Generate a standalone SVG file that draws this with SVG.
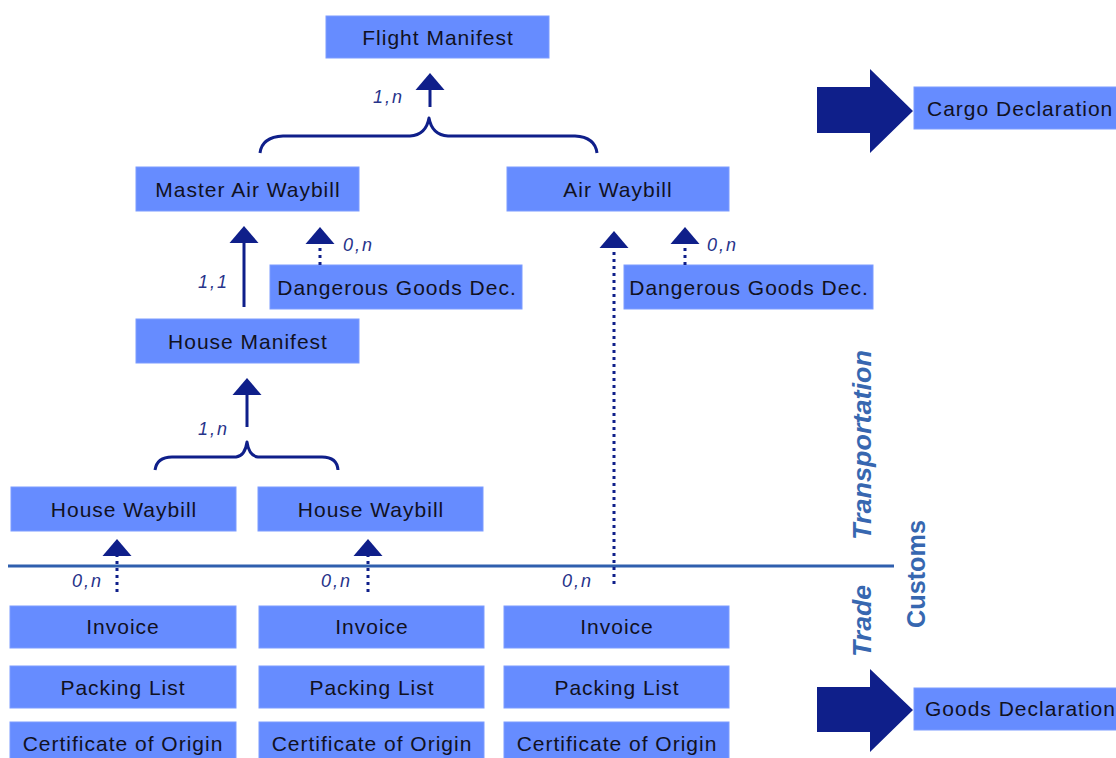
<svg xmlns="http://www.w3.org/2000/svg" width="1116" height="758" viewBox="0 0 1116 758">
  <style>
    .box { fill: #668cff; stroke: #7d9cff; stroke-width: 1; }
    .lbl { font-family: "Liberation Sans", Arial, sans-serif; font-size: 21px; letter-spacing: 1px; fill: #111122; text-anchor: middle; }
    .lbl-start { text-anchor: start; }
    .card { font-family: "Liberation Sans", Arial, sans-serif; font-size: 18px; font-style: italic; letter-spacing: 2px; fill: #27338a; }
    .solid { stroke: #0f1f8a; stroke-width: 3; fill: none; }
    .dotted { stroke: #0f1f8a; stroke-width: 3; fill: none; stroke-dasharray: 3 4; }
    .brace { stroke: #0f1f8a; stroke-width: 3; fill: none; stroke-linejoin: round; }
    .big { fill: #0f1f8a; }
    .zone { font-family: "Liberation Sans", Arial, sans-serif; font-size: 26px; font-weight: bold; fill: #3767b0; }
  </style>
  <defs>
    <marker id="head" viewBox="0 -15 17 30" refX="0" refY="0" markerWidth="17" markerHeight="30" markerUnits="userSpaceOnUse" orient="auto">
      <path d="M0,-14.5 L17,0 L0,14.5 Z" fill="#0f1f8a"/>
    </marker>
  </defs>

  <!-- transport documents -->
  <g id="flight-manifest"><rect class="box" x="326" y="16" width="223" height="42"/><text class="lbl" x="438" y="45">Flight Manifest</text></g>
  <g id="master-air-waybill"><rect class="box" x="136" y="167" width="223" height="44"/><text class="lbl" x="248" y="197">Master Air Waybill</text></g>
  <g id="air-waybill"><rect class="box" x="507" y="167" width="222" height="44"/><text class="lbl" x="618" y="197">Air Waybill</text></g>
  <g id="dgd-left"><rect class="box" x="270" y="265" width="252" height="44"/><text class="lbl" x="397" y="295">Dangerous Goods Dec.</text></g>
  <g id="dgd-right"><rect class="box" x="624" y="265" width="249" height="44"/><text class="lbl" x="749" y="295">Dangerous Goods Dec.</text></g>
  <g id="house-manifest"><rect class="box" x="136" y="319" width="223" height="44"/><text class="lbl" x="248" y="349">House Manifest</text></g>
  <g id="house-waybill-1"><rect class="box" x="11" y="487" width="225" height="44"/><text class="lbl" x="124" y="517">House Waybill</text></g>
  <g id="house-waybill-2"><rect class="box" x="258" y="487" width="225" height="44"/><text class="lbl" x="371" y="517">House Waybill</text></g>

  <!-- trade documents, three sets -->
  <g id="invoice-1"><rect class="box" x="10" y="606" width="226" height="42"/><text class="lbl" x="123" y="634">Invoice</text></g>
  <g id="invoice-2"><rect class="box" x="259" y="606" width="225" height="42"/><text class="lbl" x="372" y="634">Invoice</text></g>
  <g id="invoice-3"><rect class="box" x="504" y="606" width="225" height="42"/><text class="lbl" x="617" y="634">Invoice</text></g>
  <g id="packing-1"><rect class="box" x="10" y="666" width="226" height="42"/><text class="lbl" x="123" y="695">Packing List</text></g>
  <g id="packing-2"><rect class="box" x="259" y="666" width="225" height="42"/><text class="lbl" x="372" y="695">Packing List</text></g>
  <g id="packing-3"><rect class="box" x="504" y="666" width="225" height="42"/><text class="lbl" x="617" y="695">Packing List</text></g>
  <g id="origin-1"><rect class="box" x="10" y="722" width="226" height="44"/><text class="lbl" x="123" y="751">Certificate of Origin</text></g>
  <g id="origin-2"><rect class="box" x="259" y="722" width="225" height="44"/><text class="lbl" x="372" y="751">Certificate of Origin</text></g>
  <g id="origin-3"><rect class="box" x="504" y="722" width="225" height="44"/><text class="lbl" x="617" y="751">Certificate of Origin</text></g>

  <!-- declarations -->
  <g id="cargo-declaration">
    <polygon class="big" points="817,87 870,87 870,69 913,111 870,153 870,133 817,133"/>
    <rect class="box" x="914" y="87" width="210" height="42"/>
    <text class="lbl lbl-start" x="927" y="116">Cargo Declaration</text>
  </g>
  <g id="goods-declaration">
    <polygon class="big" points="817,687 870,687 870,669 913,710 870,752 870,732 817,732"/>
    <rect class="box" x="914" y="688" width="210" height="42"/>
    <text class="lbl lbl-start" x="925" y="716">Goods Declaration</text>
  </g>

  <!-- zone divider and labels -->
  <g id="zones">
    <line x1="8" y1="566" x2="894" y2="566" stroke="#2f5fae" stroke-width="3"/>
    <text class="zone" font-style="italic" transform="translate(871,540) rotate(-90)" textLength="190" lengthAdjust="spacingAndGlyphs">Transportation</text>
    <text class="zone" font-style="italic" transform="translate(871,657) rotate(-90)" textLength="72" lengthAdjust="spacingAndGlyphs">Trade</text>
    <text class="zone" transform="translate(925,628) rotate(-90)" textLength="108" lengthAdjust="spacingAndGlyphs">Customs</text>
  </g>

  <!-- connectors -->
  <g id="connectors">
    <path class="brace" d="M260,153 Q262,137 283,136 L410,136 Q426,135 429,118 Q432,135 448,136 L575,136 Q595,137 597,153"/>
    <line class="solid" x1="430" y1="107" x2="430" y2="90" marker-end="url(#head)"/>
    <line class="solid" x1="244" y1="307" x2="244" y2="243" marker-end="url(#head)"/>
    <line class="dotted" x1="320" y1="265" x2="320" y2="244" marker-end="url(#head)"/>
    <line class="dotted" x1="685" y1="265" x2="685" y2="244" marker-end="url(#head)"/>
    <line class="dotted" x1="614" y1="584" x2="614" y2="248" marker-end="url(#head)"/>
    <path class="brace" d="M155,470 Q157,457 172,457 L236,457 Q245,456 247,442 Q249,456 258,457 L322,457 Q337,457 338,470"/>
    <line class="solid" x1="247" y1="427" x2="247" y2="395" marker-end="url(#head)"/>
    <line class="dotted" x1="117" y1="592" x2="117" y2="556" marker-end="url(#head)"/>
    <line class="dotted" x1="368" y1="592" x2="368" y2="556" marker-end="url(#head)"/>

    <text class="card" x="373" y="103">1,n</text>
    <text class="card" x="198" y="288">1,1</text>
    <text class="card" x="343" y="251">0,n</text>
    <text class="card" x="707" y="251">0,n</text>
    <text class="card" x="198" y="435">1,n</text>
    <text class="card" x="72" y="587">0,n</text>
    <text class="card" x="321" y="587">0,n</text>
    <text class="card" x="562" y="587">0,n</text>
  </g>
</svg>
